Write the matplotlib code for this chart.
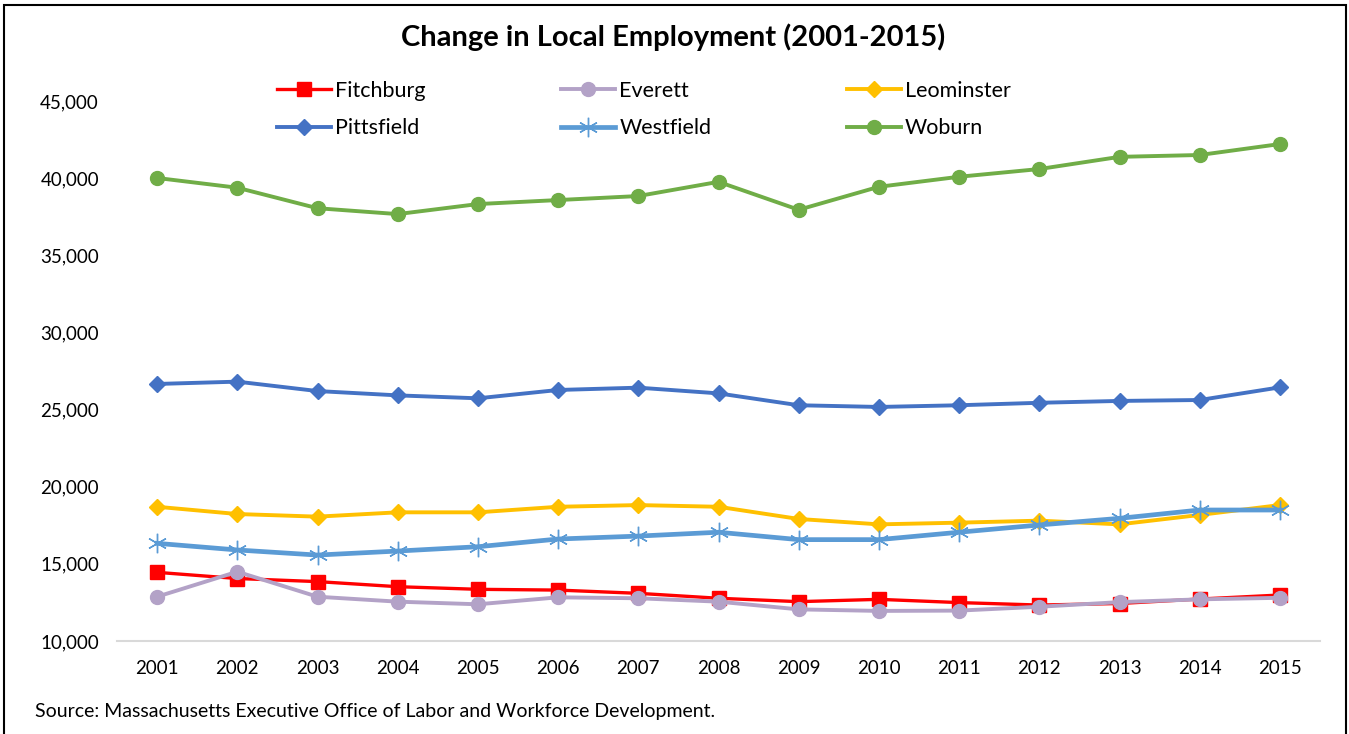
"""Line chart: change in local employment, 2001-2015."""

import matplotlib.pyplot as plt
from matplotlib.patches import Rectangle
from matplotlib.ticker import FuncFormatter

plt.switch_backend("Agg")
plt.rcParams["font.family"] = ["Lato", "DejaVu Sans"]

years = list(range(2001, 2016))
fitchburg = [14450, 14050, 13850, 13520, 13350, 13300, 13090, 12770, 12550, 12700, 12490, 12330, 12430, 12720, 12980]
everett = [12870, 14490, 12870, 12550, 12380, 12830, 12770, 12550, 12050, 11950, 11970, 12220, 12520, 12700, 12800]
leominster = [18700, 18230, 18060, 18340, 18340, 18700, 18810, 18700, 17910, 17560, 17670, 17800, 17560, 18170, 18810]
pittsfield = [26660, 26810, 26200, 25920, 25730, 26270, 26420, 26050, 25280, 25170, 25280, 25440, 25560, 25620, 26440]
westfield = [16330, 15900, 15570, 15830, 16110, 16610, 16800, 17050, 16570, 16570, 17050, 17520, 17950, 18490, 18490]
woburn = [40010, 39380, 38050, 37670, 38320, 38580, 38840, 39760, 37950, 39440, 40090, 40590, 41380, 41500, 42210]

title = "Change in Local Employment (2001-2015)"
source = "Source: Massachusetts Executive Office of Labor and Workforce Development."

fig = plt.figure(figsize=(13.49, 7.34), dpi=100)
ax = fig.add_axes([117 / 1349, 93 / 734, 1203 / 1349, 540 / 734])

x = list(range(len(years)))
lines = {}
lines["Fitchburg"] = ax.plot(x, fitchburg, color="#FF0000", lw=2.4, marker="s",
                             markersize=10, label="Fitchburg")[0]
lines["Everett"] = ax.plot(x, everett, color="#B3A2C7", lw=2.8, marker="o",
                           markersize=10, label="Everett")[0]
lines["Leominster"] = ax.plot(x, leominster, color="#FFC000", lw=2.8, marker="D",
                              markersize=8, label="Leominster")[0]
lines["Pittsfield"] = ax.plot(x, pittsfield, color="#4472C4", lw=2.8, marker="D",
                              markersize=8, label="Pittsfield")[0]
lines["Westfield"] = ax.plot(x, westfield, color="#5B9BD5", lw=3.4, marker=(6, 2, 0),
                             markersize=14, markeredgewidth=1.0, label="Westfield")[0]
lines["Woburn"] = ax.plot(x, woburn, color="#70AD47", lw=2.8, marker="o",
                          markersize=10, label="Woburn")[0]

ax.set_xlim(-0.5, len(years) - 0.5)
ax.set_ylim(10000, 45000)
ax.set_yticks(range(10000, 45001, 5000))
ax.yaxis.set_major_formatter(FuncFormatter(lambda v, p: f"{int(v):,}"))
ax.set_xticks(x)
ax.set_xticklabels([str(y) for y in years])
ax.tick_params(axis="both", length=0, labelsize=13.5, colors="#000000")
ax.tick_params(axis="y", pad=13)
ax.tick_params(axis="x", pad=14)
for side in ["top", "right", "left"]:
    ax.spines[side].set_visible(False)
ax.spines["bottom"].set_color("#D9D9D9")
ax.spines["bottom"].set_linewidth(1.5)
ax.set_facecolor("none")

# legend: 3 columns, row-major order like Excel
order = ["Fitchburg", "Pittsfield", "Everett", "Westfield", "Leominster", "Woburn"]
fig.legend([lines[n] for n in order], order, ncol=3, loc="center",
           bbox_to_anchor=(644 / 1349, 1 - 109.5 / 734), frameon=False, fontsize=15.5,
           handlelength=2.5, handletextpad=0.2, columnspacing=6.3, labelspacing=0.82)

fig.text(673 / 1349, 1 - 37 / 734, title, ha="center", va="center",
         fontsize=21, fontweight="bold")
fig.text(35 / 1349, 1 - 711 / 734, source, ha="left", va="center", fontsize=14)

# outer chart frame
fig.patches.append(Rectangle((4 / 1349, -0.05), 1342 / 1349, 1.05 - 5 / 734,
                             transform=fig.transFigure, fill=False,
                             edgecolor="#000000", linewidth=1.5))

fig.savefig("out.png", dpi=100)
plt.close(fig)
